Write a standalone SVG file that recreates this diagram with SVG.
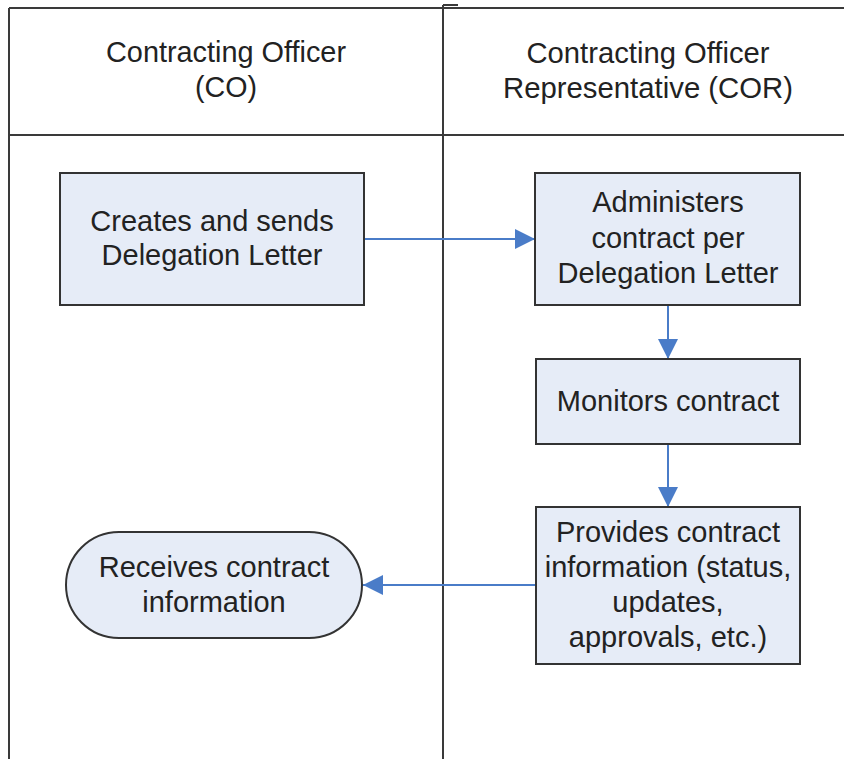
<svg xmlns="http://www.w3.org/2000/svg" width="844" height="759" viewBox="0 0 844 759">
<style>
.lane{stroke:#3a3a3a;stroke-width:2;fill:none}
.box{fill:#e6ecf7;stroke:#333;stroke-width:2}
.t{font-family:"Liberation Sans",Arial,sans-serif;font-size:29px;fill:#222;text-anchor:middle}
.h{font-family:"Liberation Sans",Arial,sans-serif;font-size:29px;fill:#222;text-anchor:middle}
.c{stroke:#4a7cc8;stroke-width:2;fill:none}
</style>
<defs>
<marker id="ah" viewBox="0 0 20 20" refX="20" refY="10" markerWidth="20" markerHeight="20" markerUnits="userSpaceOnUse" orient="auto">
<path d="M0,0 L20,10 L0,20 Z" fill="#4a7cc8"/>
</marker>
</defs>
<g id="lanes">
<path class="lane" d="M9,8 H844 M9,8 V759 M9,135 H844 M443,5 V759 M443,5 H458"/>
<text class="h" x="226" y="62" textLength="240" lengthAdjust="spacingAndGlyphs">Contracting Officer</text>
<text class="h" x="226" y="97" textLength="62" lengthAdjust="spacingAndGlyphs">(CO)</text>
<text class="h" x="648" y="63" textLength="243" lengthAdjust="spacingAndGlyphs">Contracting Officer</text>
<text class="h" x="648" y="98" textLength="290" lengthAdjust="spacingAndGlyphs">Representative (COR)</text>
</g>
<g id="connectors">
<line class="c" x1="364" y1="239" x2="535" y2="239" marker-end="url(#ah)"/>
<line class="c" x1="668" y1="305" x2="668" y2="359" marker-end="url(#ah)"/>
<line class="c" x1="668" y1="444" x2="668" y2="507" marker-end="url(#ah)"/>
<line class="c" x1="536" y1="585" x2="363" y2="585" marker-end="url(#ah)"/>
</g>
<g id="n1">
<rect class="box" x="60" y="173" width="304" height="132"/>
<text class="t" x="212" y="231">Creates and sends</text>
<text class="t" x="212" y="265">Delegation Letter</text>
</g>
<g id="n2">
<rect class="box" x="535" y="173" width="265" height="132"/>
<text class="t" x="668" y="212">Administers</text>
<text class="t" x="668" y="248">contract per</text>
<text class="t" x="668" y="283">Delegation Letter</text>
</g>
<g id="n3">
<rect class="box" x="536" y="359" width="264" height="85"/>
<text class="t" x="668" y="411">Monitors contract</text>
</g>
<g id="n4">
<rect class="box" x="536" y="507" width="264" height="157"/>
<text class="t" x="668" y="542">Provides contract</text>
<text class="t" x="668" y="577">information (status,</text>
<text class="t" x="668" y="612">updates,</text>
<text class="t" x="668" y="647">approvals, etc.)</text>
</g>
<g id="n5">
<rect class="box" x="66" y="532" width="296" height="106" rx="53" ry="53"/>
<text class="t" x="214" y="577">Receives contract</text>
<text class="t" x="214" y="612">information</text>
</g>
</svg>
